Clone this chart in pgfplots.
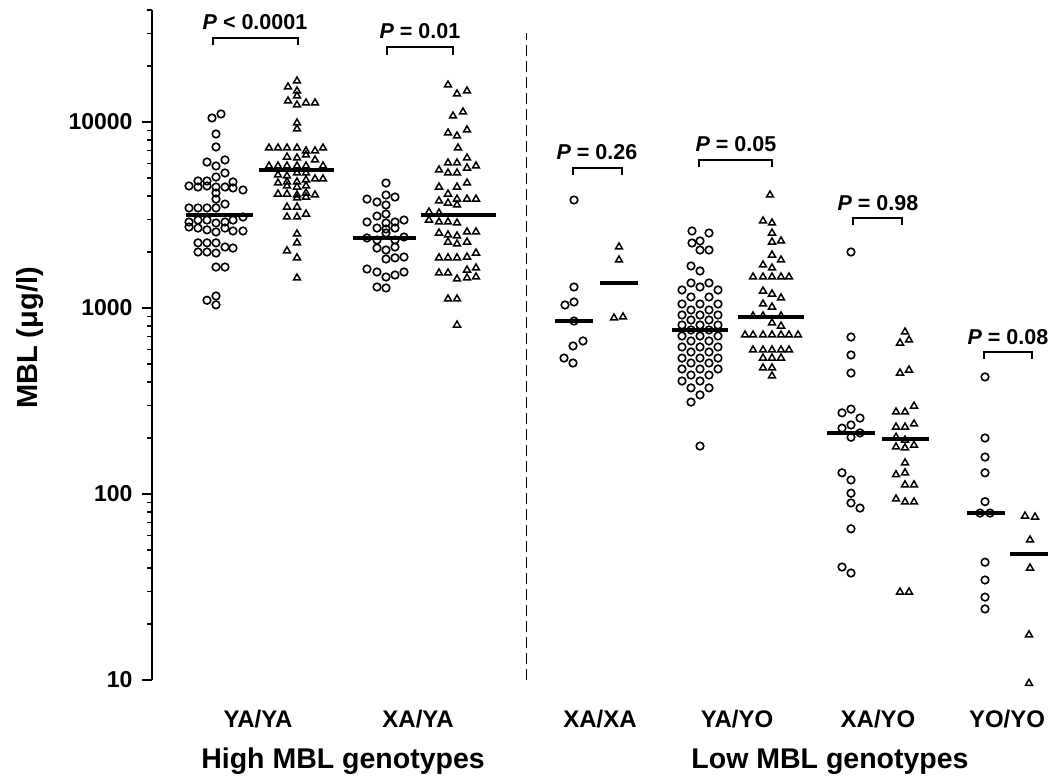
\documentclass[border=0pt]{standalone}
\usepackage{pgfplots}
\pgfplotsset{compat=1.18}
\usepackage{fontspec}
\setmainfont{Liberation Sans}
\begin{document}
\begin{tikzpicture}
\begin{axis}[
  at={(152pt,-680pt)}, anchor=south west,
  scale only axis, width=896pt, height=670pt,
  xmin=152, xmax=1048,
  ymode=log, ymin=10, ymax=40000,
  clip=false,
  axis x line*=bottom, axis y line*=left,
  x axis line style={draw=none},
  y axis line style={line width=2.4pt},
  tick align=outside,
  major tick length=10pt, minor tick length=5pt,
  ytick={10,100,1000,10000},
  yticklabels={10,100,1000,10000},
  minor ytick={20,30,40,50,60,70,80,90,200,300,400,500,600,700,800,900,2000,3000,4000,5000,6000,7000,8000,9000,20000,30000,40000},
  major tick style={line width=2.4pt, black},
  minor tick style={line width=1.3pt, black},
  yticklabel style={font=\fontsize{23}{27}\selectfont\bfseries, xshift=-6pt},
  xtick={258,418,600,737,878,1007},
  xticklabels={YA/YA,XA/YA,XA/XA,YA/YO,XA/YO,YO/YO},
  xtick style={draw=none},
  xticklabel style={font=\fontsize{24}{28}\selectfont\bfseries, anchor=base, yshift=-38pt},
  circ/.style={only marks, mark=o, mark size=3.8pt, mark options={line width=1.6pt, black}},
  tri/.style={only marks, mark=triangle, mark size=4pt, mark options={line width=1.5pt, black}},
  med/.style={no marks, line width=4pt, black},
]
% ---------------- YA/YA circles
\addplot[circ] table {
x y
212 10510
221 11040
216 8620
216 7340
207 6090
216 5800
225 6250
225 5320
198 4820
207 4820
216 5060
233 4760
189 4530
198 4470
207 4530
216 4470
225 4470
233 4420
243 4310
216 4150
216 3850
225 3620
189 3450
198 3450
207 3450
216 3450
189 2900
198 2970
207 2970
216 2865
225 2900
233 2970
243 3085
189 2726
198 2690
207 2630
216 2563
225 2690
233 2595
243 2595
198 2240
207 2240
216 2240
225 2128
233 2100
198 2000
207 2000
216 1975
216 1660
225 1660
207 1100
216 1160
216 1040
};
% ---------------- YA/YA triangles
\addplot[tri] table {
x y
297 16610
288 15430
297 14680
297 13800
288 12970
297 12340
306 12660
315 12660
297 9876
297 9170
269 7250
278 7250
287 7250
297 7250
323 7250
306 6990
315 6990
287 6480
297 6405
306 6646
315 6247
269 5800
278 5800
287 5800
297 5800
306 5800
323 5800
278 5190
287 5125
297 5320
306 5320
278 4700
287 4760
297 4760
306 4880
315 4940
323 4940
287 4530
297 4470
306 4530
278 4100
287 4100
297 4050
306 4150
315 4050
297 3903
306 3950
287 3490
297 3490
287 3085
297 3085
306 3200
297 2500
297 2240
287 2030
297 1860
297 1450
};
% ---------------- XA/YA circles
\addplot[circ] table {
x y
386 4700
367 3850
377 3715
386 4050
395 3950
386 3580
367 2900
377 3120
386 3200
386 2865
395 2900
404 2970
377 2690
386 2659
395 2690
367 2380
377 2320
386 2530
395 2320
404 2408
377 2100
386 2050
395 2128
386 1834
395 1860
404 1880
367 1620
377 1561
386 1468
395 1504
404 1561
377 1297
386 1281
};
% ---------------- XA/YA triangles
\addplot[tri] table {
x y
448 15810
457 14150
467 14680
453 10770
463 11320
448 8730
457 8410
467 9060
458 7250
448 6020
457 6020
467 6405
439 5520
448 5320
457 5320
467 5656
476 5800
439 4470
457 4470
467 4700
439 3761
448 4100
448 3668
457 3850
467 3850
476 3850
457 3580
429 3282
439 3242
429 2970
439 2900
448 2900
457 2865
439 2530
448 2470
457 2439
467 2563
476 2563
448 2263
457 2209
467 2263
439 1860
448 1860
457 1860
467 1880
476 1975
439 1543
448 1543
457 1432
467 1600
476 1641
467 1450
476 1468
448 1118
457 1118
457 810
};
% ---------------- XA/XA circles
\addplot[circ] table {
x y
574 3808
574 1297
565 1038
574 1077
574 851
583 665
573 625
564 538
573 506
};
% ---------------- XA/XA triangles
\addplot[tri] table {
x y
619 2128
619 1812
614 884
623 895
};
% ---------------- YA/YO circles
\addplot[circ] table {
x y
692 2594
709 2530
700 2293
692 2236
700 2050
709 2050
691 1682
700 1581
691 1363
709 1363
700 1297
682 1250
718 1250
691 1146
709 1146
682 1051
700 1051
718 1051
691 976
709 976
682 917
700 917
718 917
691 862
709 862
682 810
700 810
718 810
691 762
709 762
682 707
700 707
718 707
691 665
709 665
682 617
700 617
718 617
691 580
709 580
682 538
700 538
718 538
691 506
709 506
682 470
700 470
718 470
691 436
709 436
682 405
700 405
691 372
709 372
700 341
691 312
700 181
};
% ---------------- YA/YO triangles
\addplot[tri] table {
x y
770 4050
763 2936
772 2864
772 2530
781 2293
772 2263
772 1927
781 1812
763 1703
772 1641
753 1468
763 1468
772 1468
781 1468
789 1468
763 1234
772 1189
781 1132
763 1051
772 1012
753 906
763 906
781 906
772 831
781 800
745 716
753 716
763 716
772 716
781 716
789 716
798 716
753 595
763 595
772 595
781 595
789 595
763 538
772 538
781 538
763 476
772 476
772 431
};
% ---------------- XA/YO circles
\addplot[circ] table {
x y
851 2000
851 698
851 559
851 447
842 273
851 286
860 256
842 226
851 235
851 202
860 213
842 130
851 119
851 101
851 89.5
860 84
851 65
842 40.5
851 37.6
};
% ---------------- XA/YO triangles
\addplot[tri] table {
x y
905 743
900 648
909 673
900 447
909 464
896 276
905 276
914 297
896 229
905 229
914 238
896 202
905 195
914 183
896 179
905 177
905 147
896 127
905 130
905 112
914 112
896 94
905 90.6
914 90.6
900 29.7
909 29.7
};
% ---------------- YO/YO circles
\addplot[circ] table {
x y
985 426
985 200
985 158
985 130
985 91
980 79
990 79
985 43
985 34.5
985 27.9
985 24.1
};
% ---------------- YO/YO triangles
\addplot[tri] table {
x y
1025 76.1
1035 75.2
1030 56.6
1030 40
1029 17.5
1029 9.6
};
% ---------------- medians
\addplot[med] coordinates {(186,3160) (253,3160)};
\addplot[med] coordinates {(259,5520) (334,5520)};
\addplot[med] coordinates {(353,2380) (416,2380)};
\addplot[med] coordinates {(421,3160) (496,3160)};
\addplot[med] coordinates {(555,851) (593,851)};
\addplot[med] coordinates {(600,1361) (638,1361)};
\addplot[med] coordinates {(672,762) (728,762)};
\addplot[med] coordinates {(738,895) (804,895)};
\addplot[med] coordinates {(827,213) (875,213)};
\addplot[med] coordinates {(882,198) (929,198)};
\addplot[med] coordinates {(967,79) (1005,79)};
\addplot[med] coordinates {(1010,47.6) (1048,47.6)};
% ---------------- separator
\draw[line width=0.9pt, dash pattern=on 11pt off 5pt] (axis cs:526,10) -- (axis cs:526,30000);
% ---------------- brackets
\draw[line width=2.2pt] (axis cs:213,25940) -- (axis cs:213,28290) -- (axis cs:298,28290) -- (axis cs:298,25940);
\draw[line width=2.2pt] (axis cs:387,22930) -- (axis cs:387,25310) -- (axis cs:453,25310) -- (axis cs:453,22930);
\draw[line width=2.2pt] (axis cs:573,5190) -- (axis cs:573,5656) -- (axis cs:622,5656) -- (axis cs:622,5190);
\draw[line width=2.2pt] (axis cs:699,5730) -- (axis cs:699,6247) -- (axis cs:772,6247) -- (axis cs:772,5730);
\draw[line width=2.2pt] (axis cs:853,2793) -- (axis cs:853,3048) -- (axis cs:902,3048) -- (axis cs:902,2793);
\draw[line width=2.2pt] (axis cs:984,532) -- (axis cs:984,580) -- (axis cs:1032,580) -- (axis cs:1032,532);
\end{axis}
% ---------------- P values
\begin{scope}[every node/.style={anchor=base, inner sep=0pt, font=\fontsize{21.5}{25}\selectfont\bfseries}]
\node at (255pt,-29pt) {\itshape P\upshape\ < 0.0001};
\node at (420pt,-38pt) {\itshape P\upshape\ = 0.01};
\node at (597pt,-159pt) {\itshape P\upshape\ = 0.26};
\node at (736pt,-151pt) {\itshape P\upshape\ = 0.05};
\node at (878pt,-210pt) {\itshape P\upshape\ = 0.98};
\node at (1008pt,-344pt) {\itshape P\upshape\ = 0.08};
\end{scope}
% ---------------- axis title and group labels
\node[rotate=90, anchor=base, inner sep=0pt, font=\fontsize{29}{34}\selectfont\bfseries] at (37pt,-338pt) {MBL (μg/l)};
\node[anchor=base, inner sep=0pt, font=\fontsize{28.5}{32}\selectfont\bfseries] at (343pt,-768pt) {High MBL genotypes};
\node[anchor=base, inner sep=0pt, font=\fontsize{28.5}{32}\selectfont\bfseries] at (830pt,-768pt) {Low MBL genotypes};
\pgfresetboundingbox
\path (0pt,0pt) rectangle (1048pt,-779pt);
\end{tikzpicture}
\end{document}
